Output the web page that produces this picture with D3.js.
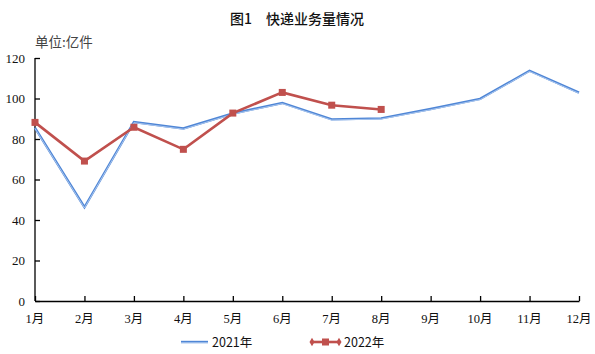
<!DOCTYPE html>
<html><head><meta charset="utf-8">
<script src="https://cdn.jsdelivr.net/npm/d3@7"></script>
<style>body{margin:0;background:#fff}</style>
</head><body>
<svg id="c" width="595" height="354"></svg>
<script>
const months = ["1月","2月","3月","4月","5月","6月","7月","8月","9月","10月","11月","12月"];
const v2021 = [85.5, 46.3, 88.4, 85.2, 92.6, 97.8, 89.7, 90.2, 94.8, 99.8, 113.7, 102.9];
const v2022 = [88.2, 69.1, 85.8, 74.9, 92.8, 103.0, 96.7, 94.6];
const yTicks = [0, 20, 40, 60, 80, 100, 120];
const title = "图1　快递业务量情况";
const unit = "单位:亿件";
const seriesNames = ["2021年", "2022年"];

const svg = d3.select("#c");
const serif = "'Liberation Serif','Times New Roman','Noto Sans CJK SC',serif";
const sans = "'Noto Sans CJK SC','Noto Sans',sans-serif";
const x = d3.scalePoint().domain(months).range([35, 579]);
const y = d3.scaleLinear().domain([0, 120]).range([301, 58]);

svg.append("text").attr("x", 297).attr("y", 24).attr("text-anchor", "middle")
  .attr("font-family", sans).attr("font-size", 14).attr("font-weight", 500).attr("fill", "#111").text(title);
svg.append("text").attr("x", 35).attr("y", 47)
  .attr("font-family", sans).attr("font-size", 13.5).attr("fill", "#444").text(unit);

const ya = svg.append("g").attr("transform", "translate(35,0)")
  .call(d3.axisRight(y).tickValues(yTicks).tickSize(5).tickFormat(d3.format("d")));
ya.selectAll("text").remove();
ya.select(".domain").attr("d", `M0,${y(120)}V${y(0)}`);
svg.append("g").selectAll("text").data(yTicks).join("text")
  .attr("x", 25).attr("y", d => y(d) + 4.5).attr("text-anchor", "end")
  .attr("font-family", serif).attr("font-size", 13).attr("fill", "#111").text(d => d);

const xa = svg.append("g").attr("transform", "translate(0,301)")
  .call(d3.axisTop(x).tickSize(5).tickSizeOuter(0).tickFormat(""));
xa.selectAll("text").remove();
svg.append("g").selectAll("text").data(months).join("text")
  .attr("x", d => x(d)).attr("y", 323).attr("text-anchor", "middle")
  .attr("font-family", serif).attr("font-size", 12.5).attr("fill", "#111").text(d => d);
svg.selectAll(".domain, .tick line").attr("stroke", "#000").attr("stroke-width", 1.3);

const line = d3.line().x((d, i) => x(months[i])).y(d => y(d));
svg.append("path").attr("d", line(v2021)).attr("fill", "none")
  .attr("stroke", "#4f86d6").attr("stroke-width", 2.4).attr("stroke-linejoin", "miter");
svg.append("path").attr("d", line(v2021)).attr("fill", "none")
  .attr("stroke", "#b3cdf0").attr("stroke-width", 0.9).attr("transform", "translate(0,0.7)");

svg.append("path").attr("d", line(v2022)).attr("fill", "none")
  .attr("stroke", "#c0504d").attr("stroke-width", 2.6);
svg.append("g").selectAll("rect").data(v2022).join("rect")
  .attr("x", (d, i) => x(months[i]) - 3.5).attr("y", d => y(d) - 3.5)
  .attr("width", 7).attr("height", 7).attr("fill", "#c0504d");

// legend
const lg = svg.append("g");
lg.append("line").attr("x1", 181).attr("x2", 208).attr("y1", 342).attr("y2", 342)
  .attr("stroke", "#4f86d6").attr("stroke-width", 2.4);
lg.append("line").attr("x1", 181).attr("x2", 208).attr("y1", 342.7).attr("y2", 342.7)
  .attr("stroke", "#b3cdf0").attr("stroke-width", 0.9);
lg.append("text").attr("x", 212).attr("y", 347).attr("font-family", sans).attr("font-size", 12.5)
  .attr("fill", "#111").text(seriesNames[0]);
lg.append("line").attr("x1", 312).attr("x2", 339).attr("y1", 342).attr("y2", 342)
  .attr("stroke", "#c0504d").attr("stroke-width", 2.6);
lg.append("rect").attr("x", 322).attr("y", 338.5).attr("width", 7).attr("height", 7).attr("fill", "#c0504d");
[312, 339].forEach(cx => lg.append("path").attr("d", d3.symbol(d3.symbolDiamond, 22)())
  .attr("transform", `translate(${cx},342)`).attr("fill", "#c0504d"));
lg.append("text").attr("x", 344).attr("y", 347).attr("font-family", sans).attr("font-size", 12.5)
  .attr("fill", "#111").text(seriesNames[1]);
</script>
</body></html>
